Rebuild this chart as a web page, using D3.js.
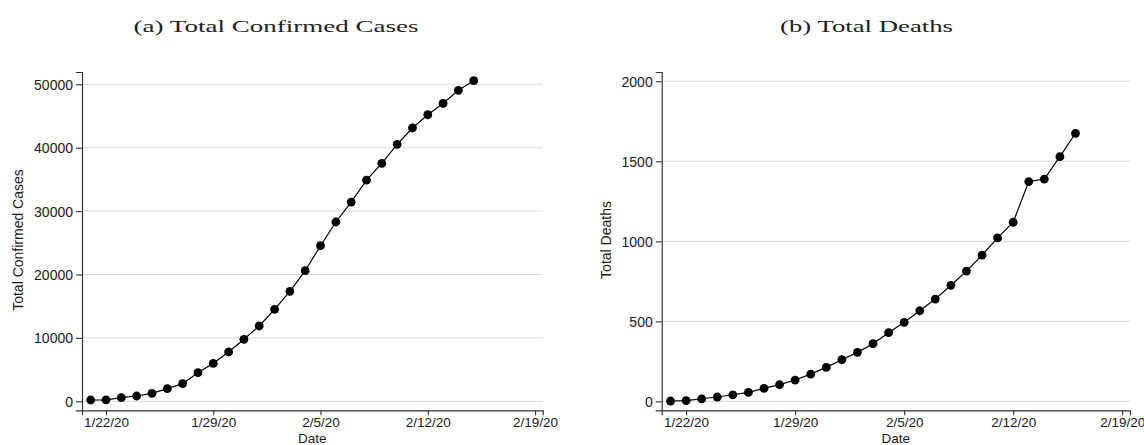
<!DOCTYPE html>
<html>
<head>
<meta charset="utf-8">
<script src="https://cdn.jsdelivr.net/npm/d3@7"></script>
<style>
  html, body { margin: 0; padding: 0; background: #fff; }
  svg { display: block; }
</style>
</head>
<body>
<div id="page"></div>
<script>
(function() {

  "use strict";

  var dates = [
    "2020-01-21", "2020-01-22", "2020-01-23", "2020-01-24", "2020-01-25",
    "2020-01-26", "2020-01-27", "2020-01-28", "2020-01-29", "2020-01-30",
    "2020-01-31", "2020-02-01", "2020-02-02", "2020-02-03", "2020-02-04",
    "2020-02-05", "2020-02-06", "2020-02-07", "2020-02-08", "2020-02-09",
    "2020-02-10", "2020-02-11", "2020-02-12", "2020-02-13", "2020-02-14",
    "2020-02-15", "2020-02-16"
  ];

  var cases = [
    205, 230, 570, 836, 1260, 1990, 2780, 4520, 5990, 7780,
    9780, 11880, 14500, 17350, 20600, 24540, 28280, 31430, 34900, 37540,
    40540, 43110, 45200, 47000, 49050, 50570
  ];

  var deaths = [
    2, 4, 16, 27, 41, 56, 81, 104, 133, 170,
    212, 260, 306, 360, 429, 494, 566, 639, 725, 814,
    914, 1021, 1119, 1373, 1389, 1529, 1675
  ];

  var date_ticks = [ "2020-01-22", "2020-01-29", "2020-02-05", "2020-02-12", "2020-02-19" ];
  var case_ticks = [ 0, 10000, 20000, 30000, 40000, 50000 ];
  var death_ticks = [ 0, 500, 1000, 1500, 2000 ];

  /* * * * * * * * * * * * * * * * * * * */

  var W = 1144, H = 445;
  var SANS = "'Liberation Sans', Arial, Helvetica, sans-serif",
    SERIF = "'Liberation Serif', 'Times New Roman', serif";
  var parse = d3.utcParse( "%Y-%m-%d" ),
    fmt = d3.utcFormat( "%-m/%-d/%y" ),
    day = 864e5;

  var svg = d3.select( "#page" ).append( "svg" )
    .attr( "width", W )
    .attr( "height", H );

  function panel( opt ) {

    var t0 = parse( dates[0] ).getTime();

    var x = d3.scaleUtc()
      .domain( [ new Date( t0 - 0.567 * day ), new Date( t0 + 29.5 * day ) ] )
      .range( [ opt.left, opt.right ] );

    var y = d3.scaleLinear()
      .domain( opt.ydomain )
      .range( [ 410.3, 72 ] );

    var g = svg.append( "g" );

    // grid
    g.append( "g" ).selectAll( "line" )
      .data( opt.yticks )
      .enter().append( "line" )
      .attr( "x1", opt.left )
      .attr( "x2", opt.right )
      .attr( "y1", function( d ) { return y( d ); } )
      .attr( "y2", function( d ) { return y( d ); } )
      .attr( "stroke", "#d9d9d9" )
      .attr( "stroke-width", 1 );

    var xa = g.append( "g" )
      .attr( "transform", "translate(0," + y.range()[0] + ")" )
      .call( d3.axisBottom( x )
        .tickValues( date_ticks.map( parse ) )
        .tickFormat( fmt )
        .tickSizeOuter( 0 )
        .tickSize( 5 )
        .tickPadding( 3 ) );

    var ya = g.append( "g" )
      .attr( "transform", "translate(" + opt.left + ",0)" )
      .call( d3.axisLeft( y )
        .tickValues( opt.yticks )
        .tickFormat( d3.format( "d" ) )
        .tickSizeOuter( 0 )
        .tickSize( 6 )
        .tickPadding( 3 ) );

    [ xa, ya ].forEach( function( a ) {
      a.attr( "font-family", SANS ).attr( "font-size", 14 );
      a.select( ".domain" ).attr( "stroke", "#333" ).attr( "stroke-width", 1.2 );
      a.selectAll( ".tick line" ).attr( "stroke", "#333" ).attr( "stroke-width", 1.1 );
      a.selectAll( ".tick text" ).attr( "fill", "#1a1a1a" );
    });
    ya.selectAll( ".tick text" ).attr( "dy", "0.36em" );
    xa.attr( "font-size", 13.5 );
    xa.selectAll( ".tick text" ).attr( "dy", "0.66em" );

    var pts = opt.values.map( function( v, i ) {
      return { d: parse( dates[i] ), v: v };
    });

    g.append( "path" )
      .datum( pts )
      .attr( "fill", "none" )
      .attr( "stroke", "#000" )
      .attr( "stroke-width", 1.2 )
      .attr( "d", d3.line()
        .x( function( p ) { return x( p.d ); } )
        .y( function( p ) { return y( p.v ); } ) );

    g.append( "g" ).selectAll( "circle" )
      .data( pts )
      .enter().append( "circle" )
      .attr( "cx", function( p ) { return x( p.d ); } )
      .attr( "cy", function( p ) { return y( p.v ); } )
      .attr( "r", 4.4 )
      .attr( "fill", "#000" );

    // labels
    g.append( "text" )
      .attr( "font-family", SANS )
      .attr( "font-size", 13.5 )
      .attr( "fill", "#1a1a1a" )
      .attr( "text-anchor", "middle" )
      .attr( "x", ( opt.left + opt.right ) / 2 )
      .attr( "y", 443 )
      .text( "Date" );

    g.append( "text" )
      .attr( "font-family", SANS )
      .attr( "font-size", 14 )
      .attr( "fill", "#1a1a1a" )
      .attr( "text-anchor", "middle" )
      .attr( "transform", "translate(" + opt.ylabx + ",240) rotate(-90)" )
      .text( opt.ylabel );

    var tg = g.append( "g" );
    var tt = tg.append( "text" )
      .attr( "font-family", SERIF )
      .attr( "font-size", 17.5 )
      .attr( "fill", "#222" )
      .attr( "text-anchor", "middle" )
      .attr( "x", 0 )
      .attr( "y", 0 )
      .text( opt.title );
    var sx = opt.titlew / tt.node().getComputedTextLength();
    tg.attr( "transform", "translate(" + opt.titlex + ",32) scale(" + sx + ",1)" );
  }

  panel({
    left: 82, right: 542.7,
    ydomain: [ -1420, 51940 ],
    yticks: case_ticks,
    values: cases,
    ylabel: "Total Confirmed Cases",
    ylabx: 23,
    title: "(a) Total Confirmed Cases",
    titlex: 276, titlew: 285
  });

  panel({
    left: 661.7, right: 1130,
    ydomain: [ -56, 2058 ],
    yticks: death_ticks,
    values: deaths,
    ylabel: "Total Deaths",
    ylabx: 611,
    title: "(b) Total Deaths",
    titlex: 866.5, titlew: 173
  });

})();
</script>
</body>
</html>
